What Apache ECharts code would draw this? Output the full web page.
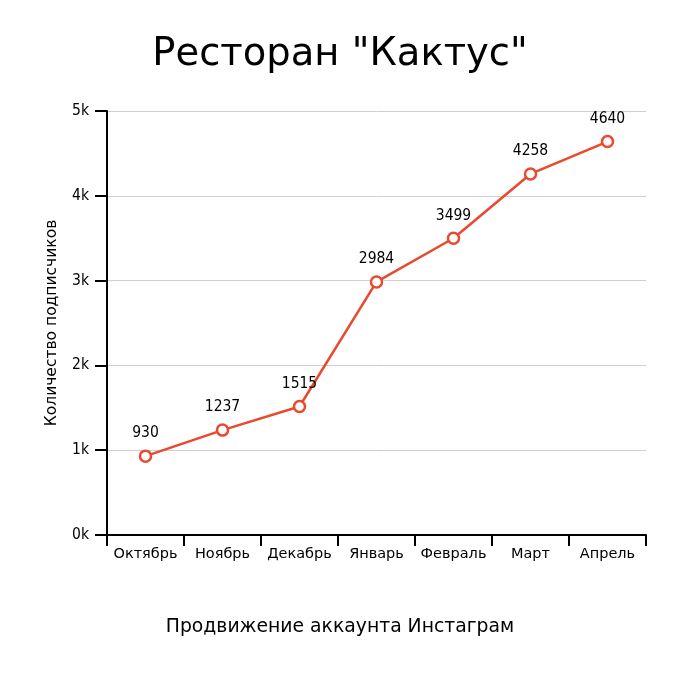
<!DOCTYPE html>
<html>
<head>
<meta charset="utf-8">
<script src="https://cdn.jsdelivr.net/npm/echarts@6/dist/echarts.min.js"></script>
<style>
html,body{margin:0;padding:0;background:#fff;}
#chart{width:680px;height:680px;}
</style>
</head>
<body>
<div id="chart"></div>
<script>
'use strict'

var months = ['Октябрь', 'Ноябрь', 'Декабрь', 'Январь', 'Февраль', 'Март', 'Апрель'];
var subscribers = [930, 1237, 1515, 2984, 3499, 4258, 4640];

var narrowFont = '"DejaVu Sans Condensed", "Liberation Sans Narrow", Roboto, sans-serif';

var chartView = echarts.init(document.getElementById('chart'));
chartView.setOption({
    backgroundColor: '#fff',
    title: [{
        text: 'Ресторан "Кактус"',
        left: 'center',
        top: 30,
        textStyle: {fontFamily: 'DejaVu Sans', fontSize: 38.5, fontWeight: 'normal', color: '#000'}
    }, {
        text: 'Продвижение аккаунта Инстаграм',
        left: 'center',
        top: 613,
        textStyle: {fontFamily: 'DejaVu Sans', fontSize: 18.8, fontWeight: 'normal', color: '#000'}
    }],
    grid: {left: 107, right: 34, top: 111, bottom: 145},
    xAxis: {
        type: 'category',
        data: months,
        boundaryGap: true,
        axisLine: {lineStyle: {color: '#000', width: 2}},
        axisTick: {show: true, interval: 0, length: 11, lineStyle: {color: '#000', width: 2}},
        axisLabel: {interval: 0, hideOverlap: false, fontFamily: 'DejaVu Sans', fontSize: 14.5, color: '#000', margin: 12}
    },
    yAxis: {
        type: 'value',
        min: 0,
        max: 5000,
        interval: 1000,
        name: 'Количество подписчиков',
        nameLocation: 'middle',
        nameGap: 47,
        nameTextStyle: {fontFamily: 'DejaVu Sans', fontSize: 15.5, color: '#000'},
        axisLine: {show: true, lineStyle: {color: '#000', width: 2}},
        axisTick: {show: true, length: 12, lineStyle: {color: '#000', width: 2}},
        axisLabel: {
            fontFamily: narrowFont, fontSize: 15.5, color: '#000', margin: 18,
            formatter: function (v) { return (v / 1000) + 'k'; }
        },
        splitLine: {lineStyle: {color: '#cfcfcf', width: 1}}
    },
    series: [{
        type: 'line',
        data: subscribers,
        symbol: 'circle',
        symbolSize: 11,
        lineStyle: {color: '#e8492f', width: 2.5},
        itemStyle: {color: '#fff', borderColor: '#e8492f', borderWidth: 2.5},
        label: {
            show: true,
            position: 'top',
            distance: 8,
            fontFamily: narrowFont,
            fontSize: 15.5,
            color: '#000'
        },
        animation: false
    }]
});
</script>
</body>
</html>
